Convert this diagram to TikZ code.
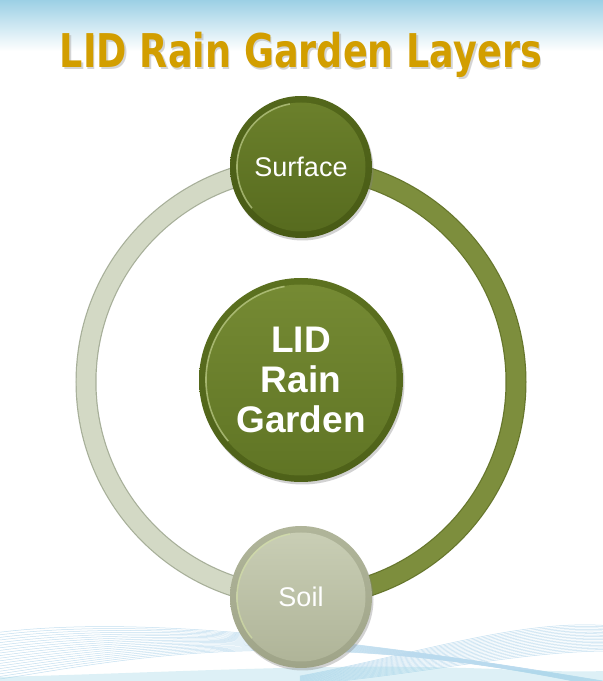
\documentclass[tikz,border=0pt]{standalone}
\usepackage{fontspec}
\setmainfont{Liberation Sans}
\newfontfamily\titlefont{DejaVu Sans}
\usetikzlibrary{shadows}
\definecolor{titlegold}{HTML}{D29E00}
\definecolor{skyblue}{HTML}{9CD0E5}
\definecolor{wavecol}{HTML}{B9DAEE}
\definecolor{wavecyan}{HTML}{9ED6E6}
\definecolor{olvA}{HTML}{53671B}
\definecolor{olvB}{HTML}{485A15}
\definecolor{olvC}{HTML}{6C812C}
\definecolor{olvD}{HTML}{566A1E}
\definecolor{cenA}{HTML}{5C711F}
\definecolor{cenB}{HTML}{4E6119}
\definecolor{cenC}{HTML}{768B34}
\definecolor{cenD}{HTML}{5F7424}
\definecolor{soilA}{HTML}{B0B59A}
\definecolor{soilB}{HTML}{9FA488}
\definecolor{soilC}{HTML}{CACFB6}
\definecolor{soilD}{HTML}{AEB397}
\definecolor{ringlight}{HTML}{D3D9C5}
\definecolor{ringlightedge}{HTML}{A7AF99}
\definecolor{ringolive}{HTML}{7D8E3D}
\definecolor{ringoliveedge}{HTML}{66762C}
\definecolor{rimhl}{HTML}{D6E3A6}
\tikzset{
  btn/.style n args={5}{circle, inner sep=0pt, minimum size=2*#1,
    top color=#2, bottom color=#3,
    drop shadow={shadow xshift=1.5pt, shadow yshift=-2.5pt, opacity=0.35},
    path picture={
      \shade[top color=#4, bottom color=#5] (path picture bounding box.center) circle[radius=#1-6.5pt];
      \draw[rimhl, opacity=0.55, line width=1.6pt] (path picture bounding box.center) ++(100:#1-7pt) arc[start angle=100, end angle=220, radius=#1-7pt];
    }},
  btntext/.style={text=white, font=\fontsize{27}{30}\selectfont},
  ringedgeL/.style={line width=21pt, draw=ringlightedge},
  ringfillL/.style={line width=18.6pt, draw=ringlight},
  ringedgeR/.style={line width=21pt, draw=ringoliveedge},
  ringfillR/.style={line width=18.6pt, draw=ringolive},
  wave/.style={draw=wavecol, line width=0.5pt, opacity=0.85},
}
\begin{document}
\begin{tikzpicture}[x=1pt,y=1pt]
\useasboundingbox (0,0) rectangle (603,681);
% background
\fill[white] (0,0) rectangle (603,681);
\shade[top color=skyblue, bottom color=white] (0,681) rectangle (603,630);
% bottom waves
\begin{scope}
\clip (0,0) rectangle (603,681);
\foreach \i in {0,...,18} {
  \draw[wave] (0,2+\i*2.6) .. controls (120,20+\i*2.4) and (300,62-\i*0.6) .. (620,-10+\i*0.4);
  \draw[wave] (300,-4+\i*0.5) .. controls (420,6+\i*1.2) and (520,30+\i*1.8) .. (610,30+\i*1.4);
}
\end{scope}
\fill[wavecyan, opacity=0.35] (0,0) -- (0,4) .. controls (150,8) and (300,16) .. (420,14) .. controls (500,13) and (560,8) .. (603,10) -- (603,0) -- cycle;
% title
\node[text=black!30, opacity=0.55] (titleshadow) at (302.5,624.5)
  {\resizebox{482pt}{\height}{\titlefont\bfseries\fontsize{46.5}{50}\selectfont LID Rain Garden Layers}};
\node[text=titlegold] (title) at (301,626)
  {\resizebox{482pt}{\height}{\titlefont\bfseries\fontsize{46.5}{50}\selectfont LID Rain Garden Layers}};
% nodes
\coordinate (top) at (301,514);
\coordinate (bot) at (301,84);
% ring
\draw[ringedgeL] (top) arc[start angle=90, end angle=270, radius=215pt];
\draw[ringfillL] (top) arc[start angle=90, end angle=270, radius=215pt];
\draw[ringedgeR] (bot) arc[start angle=-90, end angle=90, radius=215pt];
\draw[ringfillR] (bot) arc[start angle=-90, end angle=90, radius=215pt];
\node[btn={71pt}{olvA}{olvB}{olvC}{olvD}, btntext] (surface) at (top) {Surface};
\node[btn={71pt}{soilA}{soilB}{soilC}{soilD}, btntext] (soil) at (bot) {Soil};
\node[btn={102pt}{cenA}{cenB}{cenC}{cenD}, text=white, align=center,
  font=\fontsize{37}{40}\selectfont\bfseries] (center) at (301,301) {LID\\Rain\\Garden};
\end{tikzpicture}
\end{document}
